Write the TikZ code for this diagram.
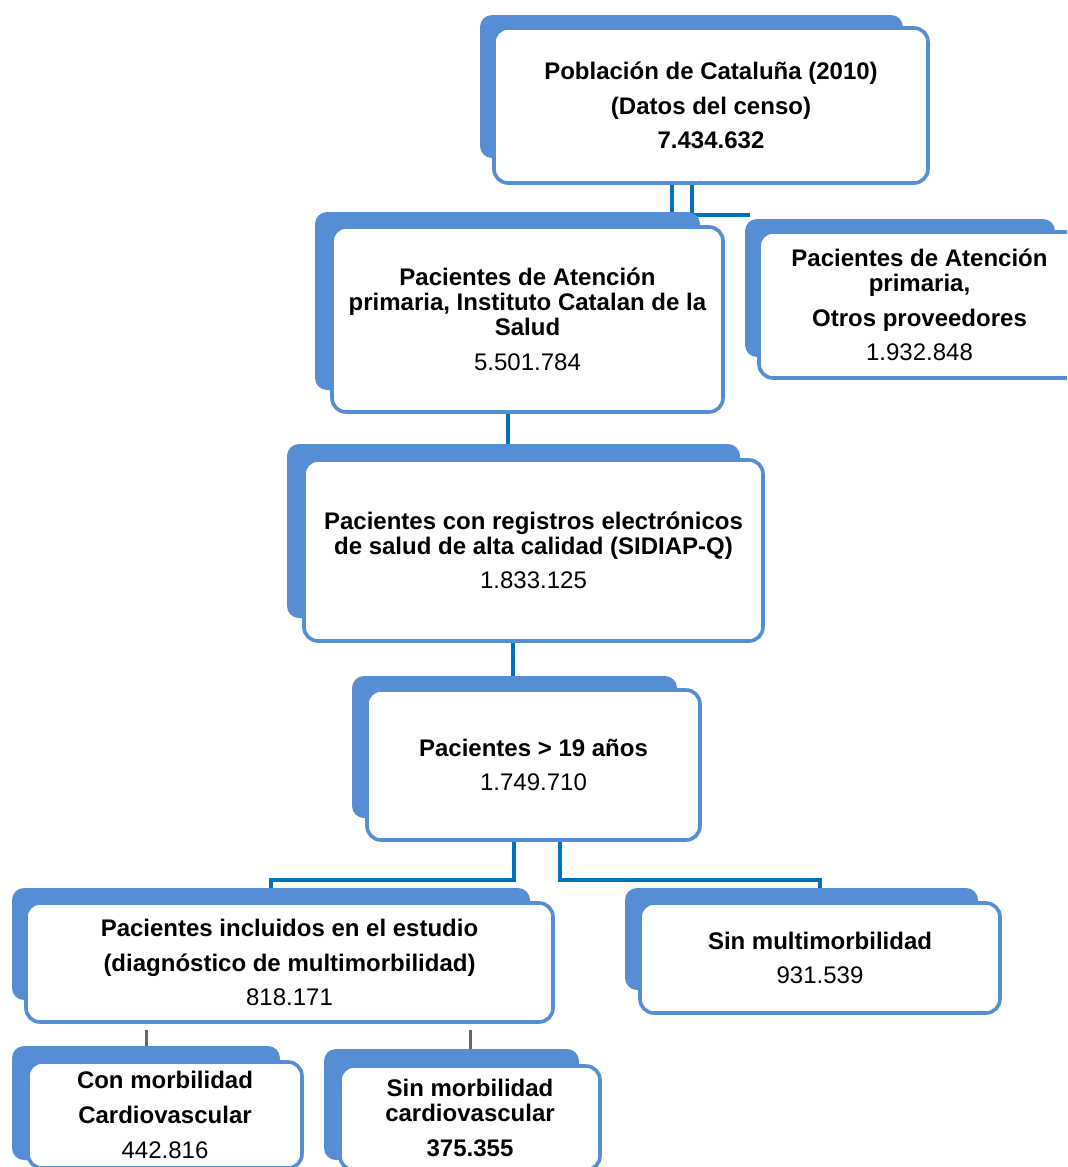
\documentclass[tikz,border=0pt]{standalone}
\usepackage{fontspec}
\setmainfont{Liberation Sans}
\usetikzlibrary{fit,backgrounds}
\definecolor{acc}{RGB}{85,142,213}
\definecolor{conn}{RGB}{0,112,192}
\begin{document}
\begin{tikzpicture}[x=0.5pt,y=-0.5pt,
  backbox/.style={fill=acc, draw=none, rounded corners=6pt, inner sep=0pt, outer sep=0pt},
  frontbox/.style={fill=white, draw=acc, line width=1.8pt, rounded corners=7pt, inner sep=0pt, outer sep=0pt},
  txt/.style={inner sep=0pt, align=center, font=\fontsize{12}{12.4}\selectfont},
  link/.style={draw=conn, line width=2pt},
  stub/.style={draw=black!60, line width=1.5pt}]
\useasboundingbox (0,0) rectangle (1067,1167);
\clip (0,0) rectangle (1067,1167);

% Box 1
\node[backbox, fit={(480,15) (903,158)}] (b1back) {};
\node[frontbox, fit={(494,28) (928,183)}] (b1) {};
\node[txt] (t1) at (b1.center) {\textbf{Población de Cataluña (2010)}\\[5pt]\textbf{(Datos del censo)}\\[5pt]\textbf{7.434.632}};

% Box 2
\node[backbox, fit={(315,212) (700,390)}] (b2back) {};
\node[frontbox, fit={(332,227) (723,412)}] (b2) {};
\node[txt] (t2) at (b2.center) {\textbf{Pacientes de Atención}\\\textbf{primaria, Instituto Catalan de la}\\\textbf{Salud}\\[5pt]5.501.784};

% Box 3
\node[backbox, fit={(745,219) (1055,357)}] (b3back) {};
\node[frontbox, fit={(759,232) (1080,378)}] (b3) {};
\node[txt] (t3) at (b3.center) {\textbf{Pacientes de Atención}\\\textbf{primaria,}\\[5pt]\textbf{Otros proveedores}\\[5pt]1.932.848};

% Box 4
\node[backbox, fit={(287,444) (740,618)}] (b4back) {};
\node[frontbox, fit={(304,460) (763,641)}] (b4) {};
\node[txt] (t4) at (b4.center) {\textbf{Pacientes con registros electrónicos}\\\textbf{de salud de alta calidad (SIDIAP-Q)}\\[5pt]1.833.125};

% Box 5
\node[backbox, fit={(352,676) (677,818)}] (b5back) {};
\node[frontbox, fit={(367,690) (700,840)}] (b5) {};
\node[txt] (t5) at (b5.center) {\textbf{Pacientes > 19 años}\\[5pt]1.749.710};

% Box 6
\node[backbox, fit={(12,888) (530,1000)}] (b6back) {};
\node[frontbox, fit={(26,903) (553,1022)}] (b6) {};
\node[txt] (t6) at (b6.center) {\textbf{Pacientes incluidos en el estudio}\\[5pt]\textbf{(diagnóstico de multimorbilidad)}\\[5pt]818.171};

% Box 7
\node[backbox, fit={(625,888) (978,990)}] (b7back) {};
\node[frontbox, fit={(640,903) (1000,1013)}] (b7) {};
\node[txt] (t7) at (b7.center) {\textbf{Sin multimorbilidad}\\[5pt]931.539};

% Box 8
\node[backbox, fit={(12,1046) (280,1160)}] (b8back) {};
\node[frontbox, fit={(28,1062) (302,1168)}] (b8) {};
\node[txt] (t8) at (b8.center) {\textbf{Con morbilidad}\\[5pt]\textbf{Cardiovascular}\\[5pt]442.816};

% Box 9
\node[backbox, fit={(324,1049) (579,1160)}] (b9back) {};
\node[frontbox, fit={(340,1066) (600,1170)}] (b9) {};
\node[txt] (t9) at (b9.center) {\textbf{Sin morbilidad}\\\textbf{cardiovascular}\\[5pt]\textbf{375.355}};

\begin{pgfonlayer}{background}
\draw[link] (672,0 |- b1.south) -- (672,0 |- b2back.north);
\draw[link] (692,0 |- b1.south) |- ([xshift=2.5pt,yshift=2pt]b3back.north west);
\draw[link] (508,0 |- b2.south) -- (508,0 |- b4back.north);
\draw[link] (513,0 |- b4.south) -- (513,0 |- b5back.north);
\draw[link] (514,0 |- b5.south) |- ([yshift=4pt]b6back.north) -- (b6back.north);
\draw[link] (560,0 |- b5.south) |- ([yshift=4pt]b7back.north -| b7.north) -- (b7back.north -| b7.north);
\draw[stub] ([yshift=-4pt]b6.south -| b8back.north) -- (b8back.north);
\draw[stub] ([yshift=-4pt]b6.south -| b9.north) -- (b9back.north -| b9.north);
\end{pgfonlayer}
\end{tikzpicture}
\end{document}
